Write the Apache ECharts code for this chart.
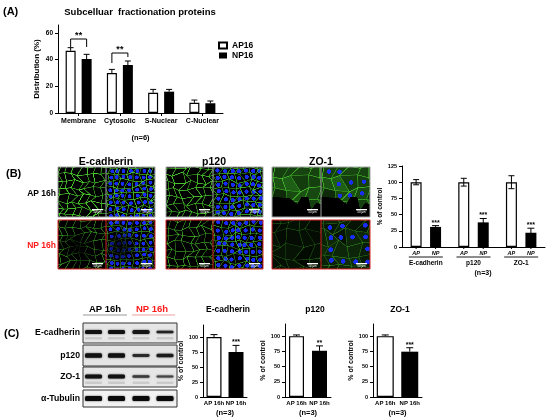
<!DOCTYPE html>
<html><head><meta charset="utf-8">
<script src="https://cdn.jsdelivr.net/npm/echarts@6/dist/echarts.min.js"></script>
<style>html,body{margin:0;padding:0;background:#fff}#c{width:550px;height:420px}</style>
</head><body><div id="c"></div>
<script>
// ---------- data ----------
const catsA = ['Membrane', 'Cytosolic', 'S-Nuclear', 'C-Nuclear'];
const ap16 = [46.7, 30, 15.2, 7.7];
const ap16Err = [2.3, 2.7, 2.5, 2.0];
const np16 = [40.5, 36, 16, 7.3];
const np16Err = [3.5, 3.0, 1.7, 1.7];
const ticksA = [0, 20, 40, 60];
const sigCatA = [0, 1];
const sigTopA = [55.5, 45];
const sigLeftA = [49.5, 37.5];
const sigRightA = [49.5, 42];
const sigMarkA = ['**', '**'];

const catsB = ['E-cadherin', 'p120', 'ZO-1'];
const apB = [100, 100, 100];
const apBErr = [4, 6, 10];
const npB = [31, 38, 22];
const npBErr = [2, 6, 7];
const starsB = ['***', '***', '***'];
const ticksB = [0, 25, 50, 75, 100, 125];
const barLabelsB = ['AP', 'NP'];

const catsC = ['AP 16h', 'NP 16h'];
const proteinsC = ['E-cadherin', 'p120', 'ZO-1'];
const eCadC = [100, 75];
const eCadErr = [4, 11];
const p120C = [100, 76];
const p120Err = [2, 8];
const zo1C = [100, 74.5];
const zo1Err = [2, 6.5];
const starsC = ['***', '**', '***'];
const ticksC = [0, 25, 50, 75, 100];

const blotRows = ['E-cadherin', 'p120', 'ZO-1', 'α-Tubulin'];

// ---------- helpers ----------
const FF = "'Liberation Sans', Arial, sans-serif";
function fr(x) { return x - Math.floor(x); }
function jit(i, j, sd) { return fr(Math.sin(i * 127.1 + j * 311.7 + sd * 74.7) * 43758.5453) - 0.5; }
function micro(w, h, o) {
  const k = 3, c = document.createElement('canvas');
  c.width = w * k; c.height = h * k;
  const g = c.getContext('2d'); g.scale(k, k);
  g.fillStyle = '#000'; g.fillRect(0, 0, w, h);
  const s = o.s, nx = Math.ceil(w / s) + 3, ny = Math.ceil(h / s) + 3, P = [];
  for (let i = 0; i < nx; i++) { P[i] = []; for (let j = 0; j < ny; j++) {
    P[i][j] = [(i - 1) * s + (j % 2) * s * 0.5 + jit(i, j, o.sd) * s * 0.7, (j - 1) * s + jit(j, i, o.sd + 5) * s * 0.7];
  } }
  for (let i = 0; i < nx - 1; i++) for (let j = 0; j < ny - 1; j++) {
    const q = [P[i][j], P[i + 1][j], P[i + 1][j + 1], P[i][j + 1]];
    if (o.fill) {
      g.fillStyle = 'rgba(50,150,35,' + (o.fill * (0.6 + 0.8 * (jit(i, j, o.sd + 9) + 0.5))) + ')';
      g.beginPath(); g.moveTo(q[0][0], q[0][1]); for (let m = 1; m < 4; m++) g.lineTo(q[m][0], q[m][1]); g.closePath(); g.fill();
    }
    if (o.nuc && (jit(i, j, o.sd + 2) + 0.5) < (o.nd || 1)) {
      const cx = (q[0][0] + q[1][0] + q[2][0] + q[3][0]) / 4, cy = (q[0][1] + q[1][1] + q[2][1] + q[3][1]) / 4;
      g.fillStyle = 'rgba(25,45,255,0.95)'; g.beginPath(); g.arc(cx, cy, s * o.nuc, 0, Math.PI * 2); g.fill();
    }
  }
  g.lineWidth = o.lw || 0.9;
  for (let i = 0; i < nx - 1; i++) for (let j = 0; j < ny - 1; j++) {
    const aa = o.a * (0.55 + 0.9 * (jit(i, j, o.sd + 7) + 0.5) * 0.5);
    g.strokeStyle = 'rgba(80,215,50,' + aa + ')';
    g.beginPath(); g.moveTo(P[i][j][0], P[i][j][1]); g.lineTo(P[i + 1][j][0], P[i + 1][j][1]);
    g.moveTo(P[i][j][0], P[i][j][1]); g.lineTo(P[i][j + 1][0], P[i][j + 1][1]); g.stroke();
  }
  if (o.dark) {
    const d = o.dark, gr = g.createRadialGradient(w * d[0], h * d[1], 0, w * d[0], h * d[1], w * d[2]);
    gr.addColorStop(0, 'rgba(0,0,0,0.85)'); gr.addColorStop(1, 'rgba(0,0,0,0)');
    g.fillStyle = gr; g.fillRect(0, 0, w, h);
  }
  if (o.cut) {
    g.fillStyle = '#000'; g.beginPath();
    o.cut.forEach((p, n) => { if (n === 0) g.moveTo(p[0] * w, p[1] * h); else g.lineTo(p[0] * w, p[1] * h); });
    g.closePath(); g.fill();
  }
  return c;
}

function errItem(offset, capW, both, starArr, starSize, starGap) {
  return function (params, api) {
    const x = api.value(0), v = api.value(1), e = api.value(2);
    const b = api.coord([x, v]), hi = api.coord([x, v + e]), lo = api.coord([x, v - e]);
    const cx = b[0] + offset, st = { stroke: '#000', lineWidth: 1 };
    const ch = [
      { type: 'line', shape: { x1: cx, y1: hi[1], x2: cx, y2: both ? lo[1] : b[1] }, style: st },
      { type: 'line', shape: { x1: cx - capW / 2, y1: hi[1], x2: cx + capW / 2, y2: hi[1] }, style: st }
    ];
    if (both) ch.push({ type: 'line', shape: { x1: cx - capW / 2, y1: lo[1], x2: cx + capW / 2, y2: lo[1] }, style: st });
    if (starArr && starArr[params.dataIndex]) ch.push({ type: 'text', style: { text: starArr[params.dataIndex], x: cx, y: hi[1] - starGap, align: 'center', verticalAlign: 'middle', fontSize: starSize, fontWeight: 'bold', fontFamily: FF, fill: '#000' } });
    return { type: 'group', children: ch };
  };
}
function customErr(ax, data, offset, capW, both, stars, starSize, starGap) {
  return { type: 'custom', coordinateSystem: 'cartesian2d', xAxisIndex: ax, yAxisIndex: ax, z: 5, silent: true,
    renderItem: errItem(offset, capW, both, stars, starSize, starGap), data: data };
}
function yAx(gi, max, ticks, name, nameGap, nfs, lfs) {
  return { type: 'value', gridIndex: gi, min: 0, max: max,
    axisLine: { show: true, lineStyle: { color: '#000', width: 1 } },
    axisTick: { show: true, length: 3, lineStyle: { color: '#000' }, customValues: ticks },
    axisLabel: { customValues: ticks, fontSize: lfs, fontWeight: 'bold', color: '#000', margin: 5, fontFamily: FF },
    splitLine: { show: false }, name: name, nameLocation: 'middle', nameGap: nameGap,
    nameTextStyle: { fontSize: nfs, fontWeight: 'bold', color: '#000', fontFamily: FF } };
}
function xAx(gi, cats, showLab, lfs, margin, name, nameGap, tick) {
  return { type: 'category', gridIndex: gi, data: cats,
    axisLine: { show: true, lineStyle: { color: '#000', width: 1 } },
    axisTick: { show: !!tick, alignWithLabel: true, length: 3, lineStyle: { color: '#000' } },
    axisLabel: { show: showLab, fontSize: lfs, fontWeight: 'bold', color: '#000', margin: margin, fontFamily: FF, interval: 0 },
    name: name, nameLocation: 'middle', nameGap: nameGap,
    nameTextStyle: { fontSize: 7.5, fontWeight: 'bold', color: '#000', fontFamily: FF } };
}
const apStyle = { color: '#fff', borderColor: '#000', borderWidth: 1.2 };
const npStyle = { color: '#000' };

// ---------- graphic ----------
const G = [];
function txt(t, x, y, fs, opts) {
  opts = opts || {};
  G.push({ type: 'text', silent: true, style: { text: t, x: x, y: y, fontSize: fs, fontWeight: opts.w || 'bold', fontFamily: FF,
    fill: opts.c || '#000', align: opts.a || 'center', verticalAlign: 'middle' } });
}
txt('(A)', 3, 12, 11, { a: 'left' });
txt('Subcelluar  fractionation proteins', 140, 12, 9.5);
txt('(B)', 6, 174, 11, { a: 'left' });
txt('(C)', 4, 334, 11, { a: 'left' });
txt('AP 16h', 56, 194, 8.5, { a: 'right' });
txt('NP 16h', 56, 246, 8.5, { a: 'right', c: '#ff1a1a' });
txt('E-cadherin', 106, 162, 10.5);
txt('p120', 214, 162, 10.5);
txt('ZO-1', 321, 162, 10.5);
txt('(n=3)', 483, 273, 7);

// microscopy panels
const colX = [[58, 106, 155], [166, 213, 263], [272, 321, 370]];
const rowY = [[167, 217], [220, 269]];
const cutZ = [[0, 0.6], [0.35, 0.62], [0.52, 0.74], [0.6, 0.6], [0.74, 0.6], [0.8, 0.86], [0.9, 0.72], [1, 0.74], [1, 1], [0, 1]];
const microOpts = [
  [[{ s: 7, a: 1, sd: 1 }, { s: 6.5, a: 0.85, sd: 2, nuc: 0.3 }],
   [{ s: 7, a: 0.6, sd: 3, dark: [0.4, 0.55, 0.45] }, { s: 6.5, a: 0.55, sd: 4, nuc: 0.3, dark: [0.3, 0.55, 0.4] }]],
  [[{ s: 7.5, a: 0.9, sd: 5 }, { s: 7, a: 0.8, sd: 6, nuc: 0.3 }],
   [{ s: 7.5, a: 0.7, sd: 7 }, { s: 7, a: 0.7, sd: 8, nuc: 0.3 }]],
  [[{ s: 11, a: 0.75, sd: 9, fill: 0.45, cut: cutZ }, { s: 11, a: 0.75, sd: 9, fill: 0.45, nuc: 0.2, nd: 0.6, cut: cutZ }],
   [{ s: 12, a: 0.3, sd: 10, fill: 0.1 }, { s: 12, a: 0.4, sd: 11, fill: 0.2, nuc: 0.2, nd: 0.7 }]]
];
for (let gI = 0; gI < 3; gI++) {
  for (let r = 0; r < 2; r++) {
    const [y0, y1] = rowY[r];
    for (let p = 0; p < 2; p++) {
      const x0 = colX[gI][p], x1 = colX[gI][p + 1];
      const cv = micro(x1 - x0, y1 - y0, microOpts[gI][r][p]);
      G.push({ type: 'image', silent: true, style: { image: cv, x: x0, y: y0, width: x1 - x0, height: y1 - y0 } });
      const by = r === 0 ? y1 - 8 : y1 - 6;
      G.push({ type: 'rect', silent: true, shape: { x: x1 - 14, y: by, width: 11, height: 1.3 }, style: { fill: '#fff' } });
      G.push({ type: 'text', silent: true, style: { text: '50 μm', x: x1 - 8.5, y: by + 3.2, fontSize: 3, fill: '#fff', align: 'center', verticalAlign: 'middle', fontFamily: FF } });
    }
    const bc = r === 0 ? '#a0a0a0' : '#d42020';
    G.push({ type: 'rect', silent: true, shape: { x: colX[gI][0], y: y0, width: colX[gI][2] - colX[gI][0], height: y1 - y0 }, style: { fill: 'none', stroke: bc, lineWidth: 1 } });
    G.push({ type: 'line', silent: true, shape: { x1: colX[gI][1], y1: y0, x2: colX[gI][1], y2: y1 }, style: { stroke: bc, lineWidth: 1 } });
  }
}

// western blot
txt('AP 16h', 105, 309, 9.5);
txt('NP 16h', 152, 309, 9.5, { c: '#ff1a1a' });
G.push({ type: 'line', silent: true, shape: { x1: 83, y1: 315, x2: 127, y2: 315 }, style: { stroke: '#9a9a9a', lineWidth: 1.2 } });
G.push({ type: 'line', silent: true, shape: { x1: 132, y1: 315, x2: 175, y2: 315 }, style: { stroke: '#f0a0a0', lineWidth: 1.2 } });
const boxY = [[323, 343], [345, 366], [367, 387], [390, 407]];
const laneX = [93.5, 116.5, 141, 165];
const bandY = [332, 355.5, 376.5, 398.5];
const bandH = [[4, 4, 4, 2.5], [4.5, 4.5, 2.8, 3.5], [3.8, 4, 2.4, 2.2], [5, 5, 5, 5]];
const bandC = [['#111', '#111', '#151515', '#222'], ['#111', '#111', '#2a2a2a', '#1a1a1a'], ['#111', '#111', '#3a3a3a', '#444'], ['#0a0a0a', '#0a0a0a', '#0a0a0a', '#0a0a0a']];
const boxFill = ['#e6e6e6', '#e4e4e4', '#e6e6e6', '#f2f2f2'];
for (let r = 0; r < 4; r++) {
  const [y0, y1] = boxY[r];
  G.push({ type: 'rect', silent: true, shape: { x: 83, y: y0, width: 94, height: y1 - y0 }, style: { fill: boxFill[r], stroke: '#333', lineWidth: 1 } });
  txt(blotRows[r], 80, (y0 + y1) / 2, 8.7, { a: 'right' });
  for (let l = 0; l < 4; l++) {
    if (r === 0 || r === 2) {
      G.push({ type: 'rect', silent: true, shape: { x: laneX[l] - 8.5, y: bandY[r] + 5, width: 17, height: 2.5, r: 1 }, style: { fill: 'rgba(0,0,0,0.12)' } });
    }
    G.push({ type: 'rect', silent: true, shape: { x: laneX[l] - 8.5, y: bandY[r] - bandH[r][l] / 2, width: 17, height: bandH[r][l], r: 1.5 },
      style: { fill: bandC[r][l], shadowBlur: 2, shadowColor: 'rgba(0,0,0,0.7)' } });
  }
}
// C titles
txt(proteinsC[0], 228, 310, 8.5);
txt(proteinsC[1], 315, 310, 8.5);
txt(proteinsC[2], 400, 310, 8.5);

// ---------- chart ----------
const chart = echarts.init(document.getElementById('c'), null, { renderer: 'canvas' });
const offA = (10 + 10 * 0.6) / 2;
const offB = (11 + 11 * 0.77) / 2;

const option = {
  animation: false,
  textStyle: { fontFamily: FF },
  legend: { data: ['AP16', 'NP16'], left: 213, top: 36, orient: 'vertical', itemWidth: 8, itemHeight: 6, itemGap: 1, icon: 'rect',
    textStyle: { fontSize: 8.5, fontWeight: 'bold', color: '#000', fontFamily: FF }, selectedMode: false },
  grid: [
    { left: 58, top: 25, width: 165, height: 88 },
    { left: 402, top: 166, width: 143, height: 81 },
    { left: 203, top: 325, width: 44, height: 72 },
    { left: 285, top: 324, width: 46, height: 73 },
    { left: 373, top: 324, width: 49, height: 73 }
  ],
  xAxis: [
    xAx(0, catsA, true, 7, 5, '(n=6)', 21, true),
    xAx(1, catsB, false, 6, 4, '', 0),
    xAx(2, catsC, true, 6, 3, '(n=3)', 12),
    xAx(3, catsC, true, 6, 3, '(n=3)', 12),
    xAx(4, catsC, true, 6, 3, '(n=3)', 12)
  ],
  yAxis: [
    yAx(0, 66, ticksA, 'Distribution (%)', 17, 8, 6.5),
    yAx(1, 125, ticksB, '% of control', 14, 6.5, 5.5),
    yAx(2, 120, ticksC, '% of control', 15, 7, 5.5),
    yAx(3, 120, ticksC, '% of control', 12, 7, 5.5),
    yAx(4, 120, ticksC, '% of control', 16, 7, 5.5)
  ],
  graphic: { elements: G },
  series: [
    { name: 'AP16', type: 'bar', xAxisIndex: 0, yAxisIndex: 0, data: ap16, barWidth: 10, barGap: '60%', itemStyle: apStyle },
    { name: 'NP16', type: 'bar', xAxisIndex: 0, yAxisIndex: 0, data: np16, barWidth: 10, barGap: '60%', itemStyle: npStyle },
    customErr(0, catsA.map((c, i) => [i, ap16[i], ap16Err[i]]), -offA, 6, false),
    customErr(0, catsA.map((c, i) => [i, np16[i], np16Err[i]]), offA, 6, false),
    { type: 'custom', coordinateSystem: 'cartesian2d', xAxisIndex: 0, yAxisIndex: 0, z: 5, silent: true,
      data: sigCatA.map((c, i) => [c, sigTopA[i], sigLeftA[i], sigRightA[i]]),
      renderItem: function (params, api) {
        const c = api.value(0), cx = api.coord([c, 0])[0];
        const yt = api.coord([c, api.value(1)])[1], yl = api.coord([c, api.value(2)])[1], yr = api.coord([c, api.value(3)])[1];
        const xl = cx - offA, xr = cx + offA;
        return { type: 'group', children: [
          { type: 'polyline', shape: { points: [[xl, yl], [xl, yt], [xr, yt], [xr, yr]] }, style: { stroke: '#000', lineWidth: 1, fill: 'none' } },
          { type: 'text', style: { text: sigMarkA[params.dataIndex], x: cx, y: yt - 3, align: 'center', verticalAlign: 'middle', fontSize: 9, fontWeight: 'bold', fontFamily: FF, fill: '#000' } }
        ] };
      } },
    { name: 'AP', type: 'bar', xAxisIndex: 1, yAxisIndex: 1, data: apB, barWidth: 11, barGap: '77%', itemStyle: apStyle },
    { name: 'NP', type: 'bar', xAxisIndex: 1, yAxisIndex: 1, data: npB, barWidth: 11, barGap: '77%', itemStyle: npStyle },
    customErr(1, catsB.map((c, i) => [i, apB[i], apBErr[i]]), -offB, 6, true),
    customErr(1, catsB.map((c, i) => [i, npB[i], npBErr[i]]), offB, 7, true, starsB, 7, 3),
    { type: 'custom', coordinateSystem: 'cartesian2d', xAxisIndex: 1, yAxisIndex: 1, z: 5, silent: true,
      data: catsB.map((c, i) => [i, 0]),
      renderItem: function (params, api) {
        const p = api.coord([api.value(0), 0]), cx = p[0], y0 = p[1];
        const ch = [];
        [-offB, offB].forEach((o, k) => {
          ch.push({ type: 'line', shape: { x1: cx + o, y1: y0, x2: cx + o, y2: y0 + 2 }, style: { stroke: '#000', lineWidth: 1 } });
          ch.push({ type: 'text', style: { text: barLabelsB[k], x: cx + o, y: y0 + 6, align: 'center', verticalAlign: 'middle', fontSize: 5.5, fontWeight: 'bold', fontStyle: 'italic', fontFamily: FF, fill: '#000' } });
        });
        ch.push({ type: 'line', shape: { x1: cx - 17, y1: y0 + 10, x2: cx + 17, y2: y0 + 10 }, style: { stroke: '#000', lineWidth: 0.9 } });
        ch.push({ type: 'text', style: { text: catsB[params.dataIndex], x: cx, y: y0 + 16, align: 'center', verticalAlign: 'middle', fontSize: 6.5, fontWeight: 'bold', fontFamily: FF, fill: '#000' } });
        return { type: 'group', children: ch };
      } },
    { name: 'E-cadherin C', type: 'bar', xAxisIndex: 2, yAxisIndex: 2, barWidth: 15,
      data: [{ value: eCadC[0], itemStyle: apStyle }, { value: eCadC[1], itemStyle: npStyle }] },
    customErr(2, catsC.map((c, i) => [i, eCadC[i], eCadErr[i]]), 0, 7, false, ['', starsC[0]], 7, 3),
    { name: 'p120 C', type: 'bar', xAxisIndex: 3, yAxisIndex: 3, barWidth: 15,
      data: [{ value: p120C[0], itemStyle: apStyle }, { value: p120C[1], itemStyle: npStyle }] },
    customErr(3, catsC.map((c, i) => [i, p120C[i], p120Err[i]]), 0, 7, false, ['', starsC[1]], 7, 3),
    { name: 'ZO-1 C', type: 'bar', xAxisIndex: 4, yAxisIndex: 4, barWidth: 17,
      data: [{ value: zo1C[0], itemStyle: apStyle }, { value: zo1C[1], itemStyle: npStyle }] },
    customErr(4, catsC.map((c, i) => [i, zo1C[i], zo1Err[i]]), 0, 7, false, ['', starsC[2]], 7, 3)
  ]
};
chart.setOption(option);
</script>
</body></html>
